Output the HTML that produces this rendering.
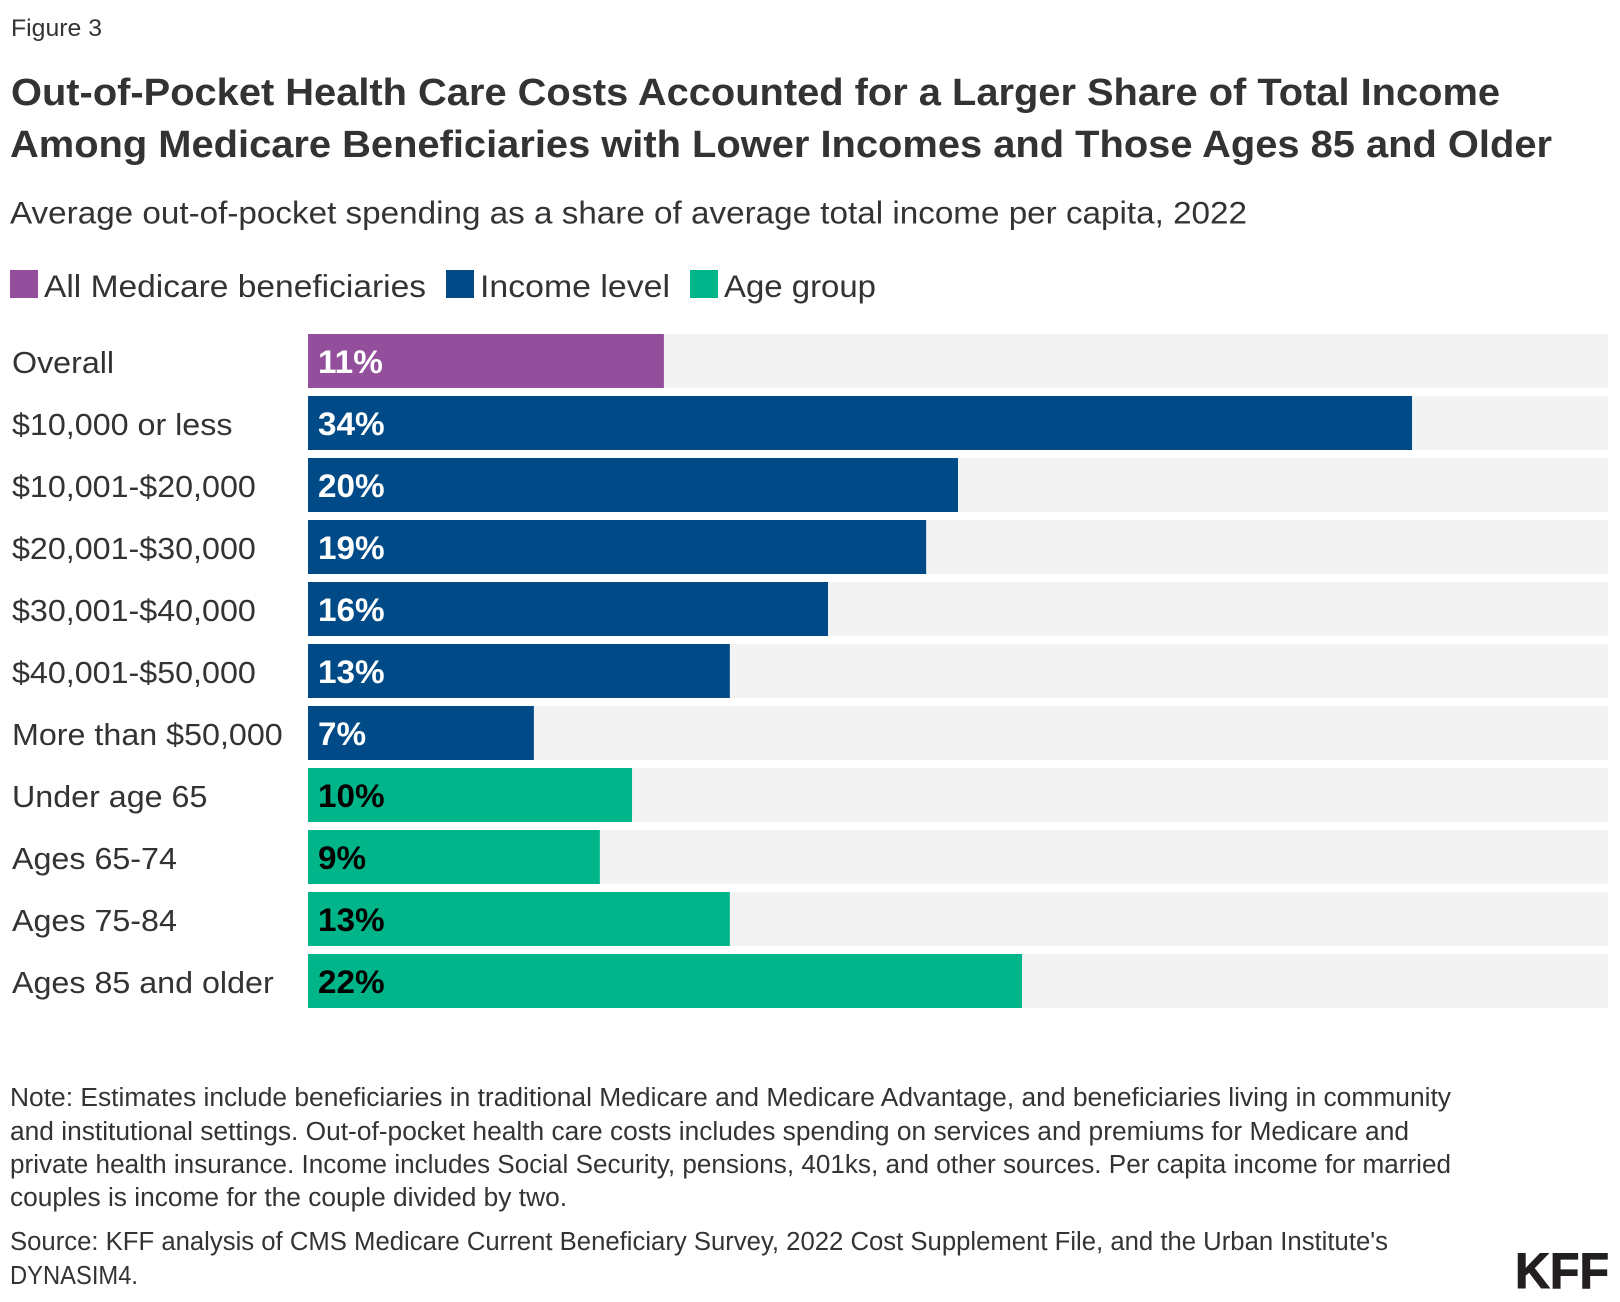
<!DOCTYPE html>
<html lang="en">
<head>
<meta charset="utf-8">
<title>Out-of-Pocket Health Care Costs chart</title>
<style>
  html, body { margin: 0; padding: 0; background: #fff; }
  body { width: 1620px; height: 1302px; overflow: hidden; }
  svg { display: block; }
  text { font-family: "Liberation Sans", sans-serif; fill: #333; }
  .title { font-size: 38px; font-weight: 700; }
  .subtitle { font-size: 31.5px; }
  .legend-text { font-size: 31.5px; }
  .note { font-size: 25.5px; }
  .category { font-size: 31px; }
  .value { font-size: 32px; font-weight: 700; }
</style>
</head>
<body>
<svg id="figure" xmlns="http://www.w3.org/2000/svg" width="1620" height="1302" viewBox="0 0 1620 1302">
  <text x="11" y="36" font-size="24" textLength="91" lengthAdjust="spacingAndGlyphs">Figure 3</text>
  <g>
    <text class="title" x="11" y="105" textLength="1489" lengthAdjust="spacingAndGlyphs">Out-of-Pocket Health Care Costs Accounted for a Larger Share of Total Income</text>
    <text class="title" x="10" y="157" textLength="1542" lengthAdjust="spacingAndGlyphs">Among Medicare Beneficiaries with Lower Incomes and Those Ages 85 and Older</text>
  </g>
  <text class="subtitle" x="10" y="223.5" textLength="1237" lengthAdjust="spacingAndGlyphs">Average out-of-pocket spending as a share of average total income per capita, 2022</text>
  <g>
    <g>
      <rect x="10" y="270" width="28" height="28" fill="#934f9c"/>
      <text class="legend-text" x="44" y="297" textLength="382" lengthAdjust="spacingAndGlyphs">All Medicare beneficiaries</text>
    </g>
    <g>
      <rect x="446" y="270" width="28" height="28" fill="#004b87"/>
      <text class="legend-text" x="480" y="297" textLength="190" lengthAdjust="spacingAndGlyphs">Income level</text>
    </g>
    <g>
      <rect x="690" y="270" width="28" height="28" fill="#00b58a"/>
      <text class="legend-text" x="724" y="297" textLength="152" lengthAdjust="spacingAndGlyphs">Age group</text>
    </g>
  </g>
  <g id="plot"></g>
  <g>
    <text class="note" x="10" y="1106" textLength="1441" lengthAdjust="spacingAndGlyphs">Note: Estimates include beneficiaries in traditional Medicare and Medicare Advantage, and beneficiaries living in community</text>
    <text class="note" x="10" y="1140" textLength="1399" lengthAdjust="spacingAndGlyphs">and institutional settings. Out-of-pocket health care costs includes spending on services and premiums for Medicare and</text>
    <text class="note" x="10" y="1173" textLength="1441" lengthAdjust="spacingAndGlyphs">private health insurance. Income includes Social Security, pensions, 401ks, and other sources. Per capita income for married</text>
    <text class="note" x="10" y="1206" textLength="557" lengthAdjust="spacingAndGlyphs">couples is income for the couple divided by two.</text>
    <text class="note" x="10" y="1250" textLength="1378" lengthAdjust="spacingAndGlyphs">Source: KFF analysis of CMS Medicare Current Beneficiary Survey, 2022 Cost Supplement File, and the Urban Institute's</text>
    <text class="note" x="10" y="1284" textLength="128" lengthAdjust="spacingAndGlyphs">DYNASIM4.</text>
  </g>
  <text x="1515" y="1288" font-size="50" font-weight="700" style="fill:#231f20;stroke:#231f20;stroke-width:1" textLength="94" lengthAdjust="spacingAndGlyphs">KFF</text>
</svg>
<script>
var categories = ["Overall", "$10,000 or less", "$10,001-$20,000", "$20,001-$30,000", "$30,001-$40,000", "$40,001-$50,000", "More than $50,000", "Under age 65", "Ages 65-74", "Ages 75-84", "Ages 85 and older"];
var values = [10.95, 33.97, 20, 19.02, 16, 12.98, 6.95, 9.97, 8.98, 12.98, 21.97];
var groups = ["all", "income", "income", "income", "income", "income", "income", "age", "age", "age", "age"];

var domainMax = 40;
var plotLeft = 308;
var plotWidth = 1300;
var plotTop = 334;
var rowStep = 62;
var barHeight = 54;
var fills = { all: "#934f9c", income: "#004b87", age: "#00b58a" };
var labelFills = { all: "#ffffff", income: "#ffffff", age: "#000000" };
var categorySquash = 1.04;
var valueSquash = 1.04;

function xScale(v) { return plotWidth * v / domainMax; }
function yBand(i) { return plotTop + rowStep * i; }

var NS = "http://www.w3.org/2000/svg";
var plot = document.getElementById("plot");

function squash(el, ratio) {
  el.setAttribute("textLength", (el.getComputedTextLength() * ratio).toFixed(1));
  el.setAttribute("lengthAdjust", "spacingAndGlyphs");
}

categories.forEach(function (name, i) {
  var y = yBand(i);

  var row = document.createElementNS(NS, "g");
  
  
  plot.appendChild(row);

  var label = document.createElementNS(NS, "text");
  
  
  label.setAttribute("class", "category");
  label.setAttribute("x", 12);
  label.setAttribute("y", y + barHeight / 2 + 12);
  label.textContent = name;
  row.appendChild(label);
  squash(label, categorySquash);

  var track = document.createElementNS(NS, "rect");
  
  
  track.setAttribute("x", plotLeft);
  track.setAttribute("y", y);
  track.setAttribute("width", xScale(domainMax));
  track.setAttribute("height", barHeight);
  track.setAttribute("fill", "#f3f3f3");
  row.appendChild(track);

  var bar = document.createElementNS(NS, "rect");
  
  
  bar.setAttribute("x", plotLeft);
  bar.setAttribute("y", y);
  bar.setAttribute("width", xScale(values[i]));
  bar.setAttribute("height", barHeight);
  bar.setAttribute("fill", fills[groups[i]]);
  row.appendChild(bar);

  var value = document.createElementNS(NS, "text");
  
  
  value.setAttribute("class", "value");
  value.setAttribute("x", plotLeft + 10);
  value.setAttribute("y", y + barHeight / 2 + 12);
  value.style.fill = labelFills[groups[i]];
  value.textContent = Math.round(values[i]) + "%";
  row.appendChild(value);
  squash(value, valueSquash);
});
</script>
</body>
</html>
